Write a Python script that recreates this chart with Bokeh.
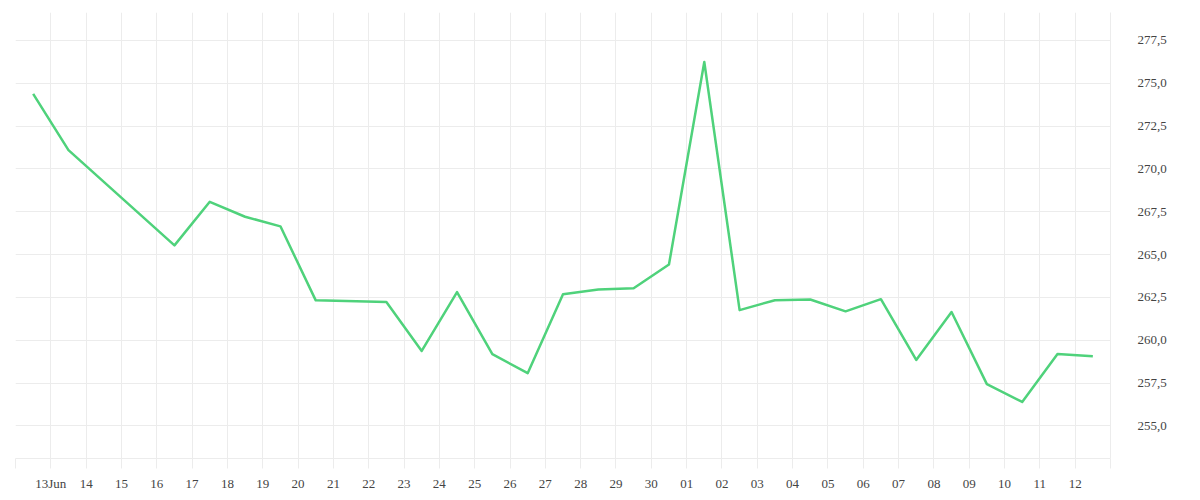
import pandas as pd
from bokeh.plotting import figure
from bokeh.models import Range1d, FixedTicker, LinearAxis, CustomJSTickFormatter, ColumnDataSource
from bokeh.embed import file_html
from bokeh.resources import INLINE

# ---- data ----
dates = ["2024-06-12", "2024-06-13", "2024-06-16", "2024-06-17", "2024-06-18",
         "2024-06-19", "2024-06-20", "2024-06-22", "2024-06-23", "2024-06-24",
         "2024-06-25", "2024-06-26", "2024-06-27", "2024-06-28", "2024-06-29",
         "2024-06-30", "2024-07-01", "2024-07-02", "2024-07-03", "2024-07-04",
         "2024-07-05", "2024-07-06", "2024-07-07", "2024-07-08", "2024-07-09",
         "2024-07-10", "2024-07-11", "2024-07-12"]
values = [274.38, 271.10, 265.54, 268.08, 267.21, 266.65, 262.33, 262.23, 259.38, 262.81,
          259.19, 258.08, 262.69, 262.97, 263.04, 264.42, 276.24, 261.76, 262.34, 262.38,
          261.69, 262.40, 258.85, 261.65, 257.44, 256.40, 259.20, 259.07]
x_start = "2024-06-12"
x_end = "2024-07-13"
x_tick_labels = ["", "13Jun", "14", "15", "16", "17", "18", "19", "20", "21", "22", "23",
                 "24", "25", "26", "27", "28", "29", "30", "01", "02", "03", "04", "05",
                 "06", "07", "08", "09", "10", "11", "12", ""]
y_ticks = [255.0, 257.5, 260.0, 262.5, 265.0, 267.5, 270.0, 272.5, 275.0, 277.5]

# ---- build ----
t0 = pd.Timestamp(x_start)
ndays = (pd.Timestamp(x_end) - t0).days
xs = [(pd.Timestamp(d) - t0).days + 0.5 for d in dates]  # daily points sit mid-cell
src = ColumnDataSource(dict(x=xs, y=values))

GRID = "#ececec"
FONT = "Liberation Serif"
TXT = "#444444"

p = figure(frame_width=1095, frame_height=446, output_backend="svg", toolbar_location=None,
           x_range=Range1d(0, ndays), y_range=Range1d(253.1, 279.13),
           min_border_left=15, min_border_top=12, min_border_right=75, min_border_bottom=30,
           y_axis_location=None)
p.outline_line_color = None
p.background_fill_color = "white"

p.line("x", "y", source=src, line_color="#4fd27b", line_width=2.5, line_join="round")

# x axis
xa = p.xaxis[0]
xa.ticker = FixedTicker(ticks=list(range(0, ndays + 1)))
xa.major_label_overrides = {i: lab for i, lab in enumerate(x_tick_labels)}
xa.axis_line_color = GRID
xa.major_tick_line_color = GRID
xa.major_tick_out = 10
xa.major_tick_in = 0
xa.minor_tick_line_color = None
xa.major_label_standoff = 7
xa.major_label_text_font = FONT
xa.major_label_text_font_size = "13px"
xa.major_label_text_color = TXT

# right y axis
ya = LinearAxis(ticker=FixedTicker(ticks=y_ticks),
                formatter=CustomJSTickFormatter(code="return tick.toFixed(1).replace('.', ',');"))
ya.axis_line_color = GRID
ya.major_tick_line_color = None
ya.major_tick_out = 0
ya.major_tick_in = 0
ya.minor_tick_line_color = None
ya.major_label_standoff = 27
ya.major_label_text_font = FONT
ya.major_label_text_font_size = "13px"
ya.major_label_text_color = TXT
p.add_layout(ya, "right")

p.xgrid.ticker = FixedTicker(ticks=list(range(0, ndays + 1)))
p.xgrid.grid_line_color = GRID
p.ygrid.ticker = FixedTicker(ticks=y_ticks)
p.ygrid.grid_line_color = GRID

open("out.html", "w").write(file_html(p, INLINE))
